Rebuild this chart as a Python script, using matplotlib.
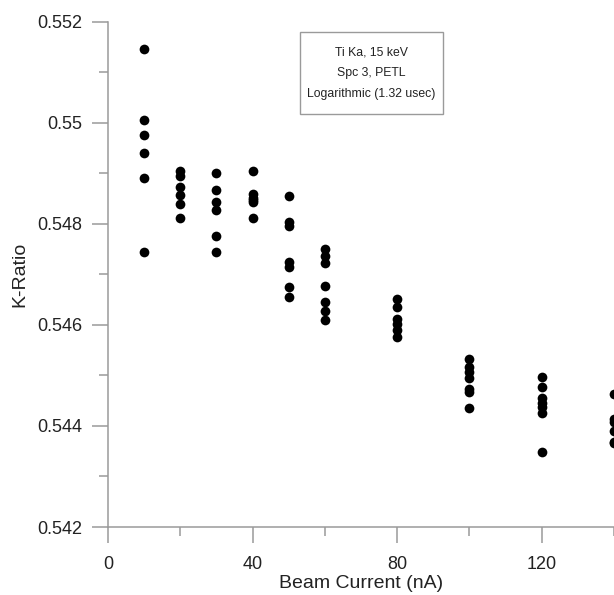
import matplotlib
matplotlib.use("Agg")
import matplotlib.pyplot as plt
from matplotlib.ticker import MultipleLocator
from matplotlib.patches import Rectangle

plt.rcParams['font.family'] = ['Liberation Sans', 'DejaVu Sans']

# beam current (nA) and measured k-ratios, one list per current
current = [10, 20, 30, 40, 50, 60, 80, 100, 120, 140]
kratio = [
    [0.55146, 0.55005, 0.54976, 0.54940, 0.54891, 0.54744],
    [0.54904, 0.54894, 0.54872, 0.54857, 0.54839, 0.54812],
    [0.54900, 0.54866, 0.54843, 0.54828, 0.54776, 0.54744],
    [0.54904, 0.54859, 0.54851, 0.54847, 0.54843, 0.54812],
    [0.54856, 0.54803, 0.54795, 0.54724, 0.54714, 0.54675, 0.54656],
    [0.54750, 0.54737, 0.54723, 0.54677, 0.54646, 0.54627, 0.54609],
    [0.54651, 0.54635, 0.54611, 0.54601, 0.54590, 0.54577],
    [0.54533, 0.54516, 0.54506, 0.54494, 0.54473, 0.54468, 0.54436],
    [0.54496, 0.54478, 0.54456, 0.54446, 0.54437, 0.54426, 0.54349],
    [0.54463, 0.54413, 0.54407, 0.54389, 0.54369, 0.54366],
]
info = "Ti Ka, 15 keV\nSpc 3, PETL\nLogarithmic (1.32 usec)"

fig = plt.figure(figsize=(6.14, 5.95), dpi=100)
ax = fig.add_axes([108/614, 68/595, 506/614, 505.3/595])

for x, ys in zip(current, kratio):
    ax.plot([x]*len(ys), ys, 'o', color='black', ms=7, mew=0, clip_on=False)

ax.set_xlim(0, 140)
ax.set_ylim(0.542, 0.552)
ax.xaxis.set_major_locator(MultipleLocator(40))
ax.xaxis.set_minor_locator(MultipleLocator(20))
ax.yaxis.set_major_locator(MultipleLocator(0.002))
ax.yaxis.set_minor_locator(MultipleLocator(0.001))
ax.yaxis.set_major_formatter(matplotlib.ticker.FuncFormatter(lambda v, p: "%g" % round(v, 3)))

grey = '#9a9a9a'
for s in ['top', 'right']:
    ax.spines[s].set_visible(False)
for s in ['left', 'bottom']:
    ax.spines[s].set_color(grey)
    ax.spines[s].set_linewidth(1.1)
ax.tick_params(which='major', length=11.5, width=1.1, color=grey, labelsize=13, labelcolor='#222222')
ax.tick_params(which='minor', length=6.5, width=1.1, color=grey)
ax.tick_params(axis='y', pad=7)
ax.tick_params(axis='x', pad=9.5)

ax.set_xlabel("Beam Current (nA)", fontsize=14, color='#222222', labelpad=1)
ax.set_ylabel("K-Ratio", fontsize=14, color='#222222', labelpad=6)

# legend box with the run conditions
box = Rectangle((0.3794, 0.8173), 0.2826, 0.1623, transform=ax.transAxes,
                fc='white', ec=grey, lw=1.0)
ax.add_patch(box)
ax.text(0.3794 + 0.2826/2, 0.8173 + 0.1623/2, info, transform=ax.transAxes,
        ha='center', va='center', fontsize=8.8, color='#222222', linespacing=2.0)

fig.savefig("out.png", dpi=100)
